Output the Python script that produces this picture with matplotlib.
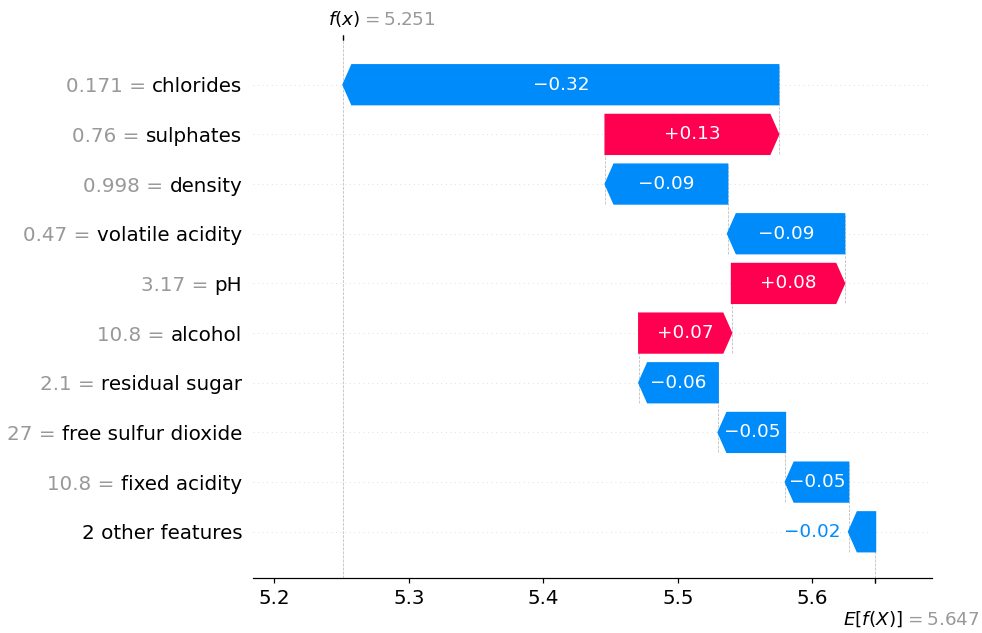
import matplotlib
matplotlib.use("Agg")
import matplotlib.pyplot as plt
import matplotlib.transforms as mtransforms

# waterfall rows, listed from the bottom row upwards
features = ["2 other features", "fixed acidity", "free sulfur dioxide", "residual sugar",
            "alcohol", "pH", "volatile acidity", "density", "sulphates", "chlorides"]
feature_values = ["", "10.8", "27", "2.1", "10.8", "3.17", "0.47", "0.998", "0.76", "0.171"]
contribs = [-0.020, -0.047, -0.050, -0.059, 0.069, 0.084, -0.087, -0.091, 0.129, -0.324]
base_value = 5.647
x_ticks = [5.2, 5.3, 5.4, 5.5, 5.6]
x_range = (5.184, 5.689)

red = (1.0, 0.0, 0.31765)
blue = (0.0, 0.5451, 0.98431)


def fmt(v, f):
    return (f % v).replace("-", "\u2212")


n = len(features)
fx = base_value + sum(contribs)

dpi = 110
fig = plt.figure(figsize=(982 / dpi, 633 / dpi), dpi=dpi)
ax = fig.add_axes([0.2576, 0.0869, 0.6914, 0.8499])
ax.set_xlim(*x_range)
ax.set_ylim(-0.93, 9.9)
renderer = fig.canvas.get_renderer()

ax_w_in = ax.get_position().width * fig.get_figwidth()
to_x = (x_range[1] - x_range[0]) / ax_w_in   # data units per inch
hl = 0.08 * to_x
bar_width = 0.8

# dotted row guides
for i in range(n):
    ax.axhline(i, color="#cccccc", lw=0.5, dashes=(1, 5), zorder=-1)

start = base_value
for i, v in enumerate(contribs):
    col = red if v > 0 else blue
    if i > 0:
        ax.plot([start, start], [i - 1 - 0.4, i + 0.4], color="#bbbbbb",
                linestyle="--", linewidth=0.5, zorder=-1)
    dist = abs(v)
    sgn = 1 if v > 0 else -1
    arr = ax.arrow(start, i, sgn * max(dist - hl, 1e-6), 0,
                   head_length=min(dist, hl), color=col,
                   width=bar_width, head_width=bar_width)
    label = fmt(v, "%+0.02f")
    txt = ax.text(start + 0.5 * v, i, label, ha="center", va="center",
                  color="white", fontsize=12)
    tb = txt.get_window_extent(renderer=renderer)
    ab = arr.get_window_extent(renderer=renderer)
    if tb.width > ab.width:
        txt.remove()
        ax.text(start + v + sgn * (5 / 72) * to_x, i, label,
                ha="left" if v > 0 else "right", va="center",
                color=col, fontsize=12)
    start += v

# reference lines for f(x) and E[f(X)]
ax.axvline(fx, 0, 1, color="#bbbbbb", linestyle="--", linewidth=0.5, zorder=-1)
ax.axvline(base_value, 0, 1 / n, color="#bbbbbb", linestyle="--", linewidth=0.5, zorder=-1)

ax.set_yticks(range(n))
ax.set_yticklabels(features, fontsize=13)

ax.set_xticks(x_ticks)
ax.set_xticklabels([f"{t:.1f}" for t in x_ticks])
ax.xaxis.set_ticks_position("bottom")
ax.yaxis.set_ticks_position("none")
for s in ("right", "top", "left"):
    ax.spines[s].set_visible(False)
ax.tick_params(labelsize=13)

# gray "value =" prefix in front of each feature name
fig.canvas.draw()
space_px = 13 * 0.318 * dpi / 72
for t, val in zip(ax.yaxis.get_majorticklabels(), feature_values):
    if not val:
        continue
    w = t.get_window_extent(renderer=renderer).width
    x0, y0 = t.get_position()
    shift = mtransforms.ScaledTranslation(-(w + space_px) / dpi, 0, fig.dpi_scale_trans)
    ax.text(x0, y0, f"{val} =", transform=t.get_transform() + shift,
            ha="right", va=t.get_va(), fontsize=13, color="#999999")

# E[f(X)] marker under the axis
ax2 = ax.twiny()
ax2.set_xlim(*x_range)
ax2.xaxis.set_ticks_position("bottom")
ax2.set_xticks([base_value, base_value + 1e-8])
ax2.set_xticklabels(["\n$E[f(X)]$", "\n$ = " + fmt(base_value, "%0.03f") + "$"],
                    fontsize=12, ha="left")
for s in ax2.spines.values():
    s.set_visible(False)
tl = ax2.xaxis.get_majorticklabels()
tl[0].set_transform(tl[0].get_transform() + mtransforms.ScaledTranslation(-21 / 72., 0, fig.dpi_scale_trans))
tl[1].set_transform(tl[1].get_transform() + mtransforms.ScaledTranslation(19 / 72., -1 / 72., fig.dpi_scale_trans))
tl[1].set_color("#999999")

# f(x) marker above the plot
ax3 = ax2.twiny()
ax3.set_xlim(*x_range)
ax3.xaxis.set_ticks_position("top")
ax3.set_xticks([fx, fx + 1e-8])
ax3.set_xticklabels(["$f(x)$", "$ = " + fmt(fx, "%0.03f") + "$"], fontsize=12, ha="left")
for s in ax3.spines.values():
    s.set_visible(False)
tl = ax3.xaxis.get_majorticklabels()
tl[0].set_transform(tl[0].get_transform() + mtransforms.ScaledTranslation(-10 / 72., 0, fig.dpi_scale_trans))
tl[1].set_transform(tl[1].get_transform() + mtransforms.ScaledTranslation(12 / 72., 0, fig.dpi_scale_trans))
tl[1].set_color("#999999")

fig.savefig("out.png", dpi=dpi)
